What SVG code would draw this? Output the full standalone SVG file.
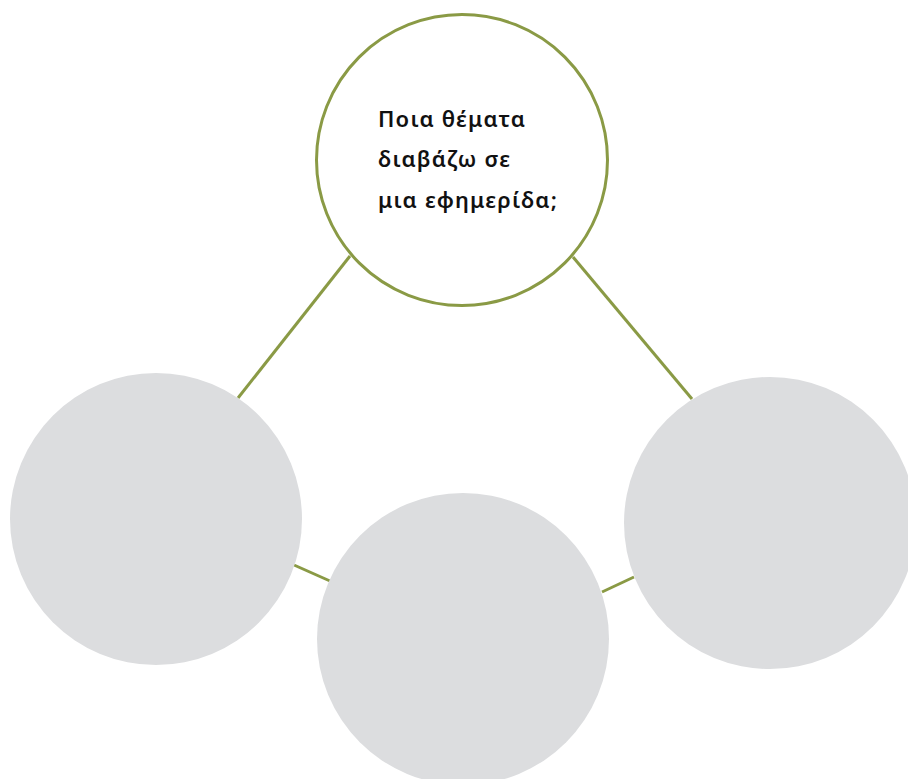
<svg xmlns="http://www.w3.org/2000/svg" width="908" height="779" viewBox="0 0 908 779">
<style>
.c{stroke:#8a9a45;stroke-width:3;fill:none}
.g{fill:#dcdddf}
.t{font-family:"Noto Sans","Open Sans",sans-serif;font-weight:600;font-size:22px;letter-spacing:1.2px;fill:#111}
</style>
<rect width="908" height="779" fill="#fff"/>
<g id="connectors">
<line class="c" x1="350" y1="256" x2="238" y2="398"/>
<line class="c" x1="573" y1="257" x2="692" y2="399"/>
<line class="c" x1="294" y1="565" x2="330" y2="581"/>
<line class="c" x1="602" y1="592" x2="634" y2="577"/>
</g>
<g id="top">
<circle cx="462" cy="160" r="145.5" fill="#fff" stroke="#8a9a45" stroke-width="3"/>
<text class="t" x="378" y="127">Ποια θέματα</text>
<text class="t" x="378" y="167">διαβάζω σε</text>
<text class="t" x="378" y="208">μια εφημερίδα;</text>
</g>
<g id="left"><circle class="g" cx="156" cy="519" r="146"/></g>
<g id="bottom"><circle class="g" cx="463" cy="639" r="146"/></g>
<g id="right"><circle class="g" cx="770" cy="523" r="146"/></g>
</svg>
